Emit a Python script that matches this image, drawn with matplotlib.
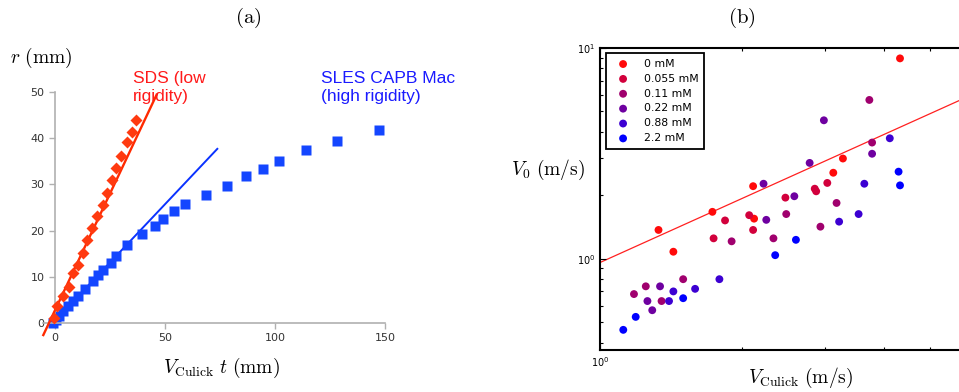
import matplotlib
matplotlib.use("Agg")
import numpy as np
import matplotlib.pyplot as plt
from matplotlib.ticker import NullFormatter, LogLocator

plt.rcParams['mathtext.fontset'] = 'cm'
plt.rcParams['font.family'] = ['DejaVu Sans']

# ---- panel (a): r vs V_Culick t ----
sds_x = [-0.5, 1.0, 3.5, 6.4, 8.3, 10.3, 12.6, 14.7, 17.0, 19.2, 21.7, 23.8,
         25.8, 27.7, 29.8, 32.6, 34.8, 36.7]
sds_y = [1.0, 3.6, 5.9, 7.9, 10.8, 12.6, 15.2, 18.0, 20.6, 23.1, 25.6, 28.1,
         31.0, 33.5, 36.1, 39.1, 41.3, 44.0]
sles_x = [-0.8, 0.5, 2.0, 3.8, 6.1, 8.3, 10.6, 13.6, 17.1, 19.7, 22.0, 25.5,
          27.7, 32.6, 39.4, 45.5, 49.2, 54.2, 59.1, 68.6, 78.0, 86.7, 94.7,
          102.0, 113.9, 128.0, 147.4]
sles_y = [0.1, 0.7, 1.6, 2.5, 3.6, 4.7, 5.8, 7.4, 9.0, 10.5, 11.5, 13.0, 14.4,
          16.8, 19.3, 21.1, 22.5, 24.2, 25.8, 27.8, 29.6, 31.9, 33.3, 35.1,
          37.4, 39.5, 41.8]
# linear fits (slope, intercept, x range)
sds_fit = (1.01, 2.75, (-5.3, 46.2))
sles_fit = (0.504, 0.5, (0.0, 73.8))

# ---- panel (b): V0 vs V_Culick (log-log) ----
conc_labels = ["0 mM", "0.055 mM", "0.11 mM", "0.22 mM", "0.88 mM", "2.2 mM"]
conc_colors = ["#ff0a0a", "#d2003c", "#a0006e", "#6e00a0", "#3c00d2", "#0000ff"]
v_culick = [
    [4.32, 3.27, 3.12, 2.11, 1.73, 2.12, 1.33, 1.43],
    [3.03, 2.85, 2.87, 2.47, 2.07, 1.84, 2.11, 1.74],
    [3.72, 3.77, 3.17, 2.48, 2.93, 1.90, 2.33, 1.50, 1.25, 1.18, 1.35],
    [2.98, 3.77, 2.78, 2.22, 2.58, 2.25, 1.34, 1.26, 1.29],
    [4.11, 3.63, 3.53, 3.21, 1.79, 1.59, 1.43, 1.40],
    [4.29, 4.32, 2.60, 2.35, 1.50, 1.19, 1.12],
]
v0 = [
    [8.93, 2.99, 2.56, 2.21, 1.67, 1.55, 1.37, 1.08],
    [2.29, 2.15, 2.09, 1.95, 1.61, 1.52, 1.37, 1.25],
    [5.67, 3.56, 1.84, 1.63, 1.42, 1.21, 1.25, 0.80, 0.74, 0.68, 0.63],
    [4.54, 3.15, 2.85, 2.27, 1.98, 1.53, 0.74, 0.63, 0.57],
    [3.73, 2.27, 1.63, 1.50, 0.80, 0.72, 0.70, 0.63],
    [2.59, 2.23, 1.23, 1.04, 0.65, 0.53, 0.46],
]
# power-law fit V0 = a * V^b
fit_a, fit_b = 0.96, 1.01

fig = plt.figure(figsize=(9.59, 3.92), dpi=100)

# panel (a)
ax1 = fig.add_axes([0.0447, 0.1406, 0.3567, 0.6247])
xs = np.array(sles_fit[2])
ax1.plot(xs, sles_fit[0] * xs + sles_fit[1], color='#0a32ff', lw=1.4, zorder=1)
ax1.plot(sles_x, sles_y, 's', color='#1446ff', ms=7.5, mec='none', zorder=2)
xs = np.array(sds_fit[2])
ax1.plot(xs, sds_fit[0] * xs + sds_fit[1], color='#ff2a00', lw=1.7, zorder=3,
         clip_on=False)
ax1.plot(sds_x, sds_y, 'D', color='#ff3a10', ms=6.3, mec='none', zorder=4)
ax1.set_xlim(-5.5, 150)
ax1.set_ylim(-3, 50)
for s in ['top', 'right']:
    ax1.spines[s].set_visible(False)
ax1.spines['left'].set_position(('data', 0))
ax1.spines['bottom'].set_position(('data', 0))
ax1.spines['left'].set_bounds(0, 50)
for s in ['left', 'bottom']:
    ax1.spines[s].set_color('#b0b0b0')
    ax1.spines[s].set_linewidth(1.2)
ax1.set_xticks([0, 50, 100, 150])
ax1.set_yticks([0, 10, 20, 30, 40, 50])
ax1.tick_params(colors='#b0b0b0', labelcolor='#333333', labelsize=8,
                length=4, width=1.0, direction='out')
ax1.text(35.5, 54.5, "SDS (low\nrigidity)", color='#ff1a1a', fontsize=12.5,
         family='Liberation Sans', va='top', ha='left', linespacing=1.25)
ax1.text(121, 54.5, "SLES CAPB Mac\n(high rigidity)", color='#1a1aff',
         fontsize=12.5, family='Liberation Sans', va='top', ha='left',
         linespacing=1.25)
fig.text(0.010, 0.852, r'$r\ \mathrm{(mm)}$', fontsize=14, va='center', ha='left')
fig.text(0.231, 0.062, r'$V_{\mathrm{Culick}}\ t\ \mathrm{(mm)}$', fontsize=14,
         va='center', ha='center')
fig.text(0.259, 0.955, r'$\mathrm{(a)}$', fontsize=15, va='center', ha='center')

# panel (b)
ax2 = fig.add_axes([0.6257, 0.1071, 0.3830, 0.7704])
xf = np.array([1.0, 6.0])
ax2.plot(xf, fit_a * xf ** fit_b, color='#ff2020', lw=0.9, zorder=1)
for lab, col, xv, yv in zip(conc_labels, conc_colors, v_culick, v0):
    ax2.scatter(xv, yv, s=32, color=col, edgecolors='none', label=lab, zorder=2)
ax2.set_xscale('log')
ax2.set_yscale('log')
ax2.set_xlim(1, 6)
ax2.set_ylim(0.369, 10)
ax2.xaxis.set_minor_formatter(NullFormatter())
ax2.yaxis.set_minor_formatter(NullFormatter())
ax2.yaxis.set_minor_locator(LogLocator(subs=np.arange(2, 10)))
for s in ax2.spines.values():
    s.set_linewidth(1.5)
ax2.tick_params(which='both', direction='in', top=True, right=True,
                labelsize=7, width=0.8)
ax2.tick_params(which='major', length=4)
ax2.tick_params(which='minor', length=2.5)
leg = ax2.legend(loc='upper left', bbox_to_anchor=(0.0155, 0.982),
                 borderaxespad=0, fontsize=7.8, frameon=True, fancybox=False,
                 framealpha=1, edgecolor='black', labelspacing=0.45,
                 handlelength=2.2, handletextpad=0.8, borderpad=0.5,
                 scatterpoints=1)
leg.get_frame().set_linewidth(1.3)
fig.text(0.835, 0.036, r'$V_{\mathrm{Culick}}\ \mathrm{(m/s)}$', fontsize=14,
         va='center', ha='center')
fig.text(0.571, 0.566, r'$V_0\ \mathrm{(m/s)}$', fontsize=14, va='center',
         ha='center')
fig.text(0.774, 0.955, r'$\mathrm{(b)}$', fontsize=15, va='center', ha='center')

fig.savefig("out.png", dpi=100)
